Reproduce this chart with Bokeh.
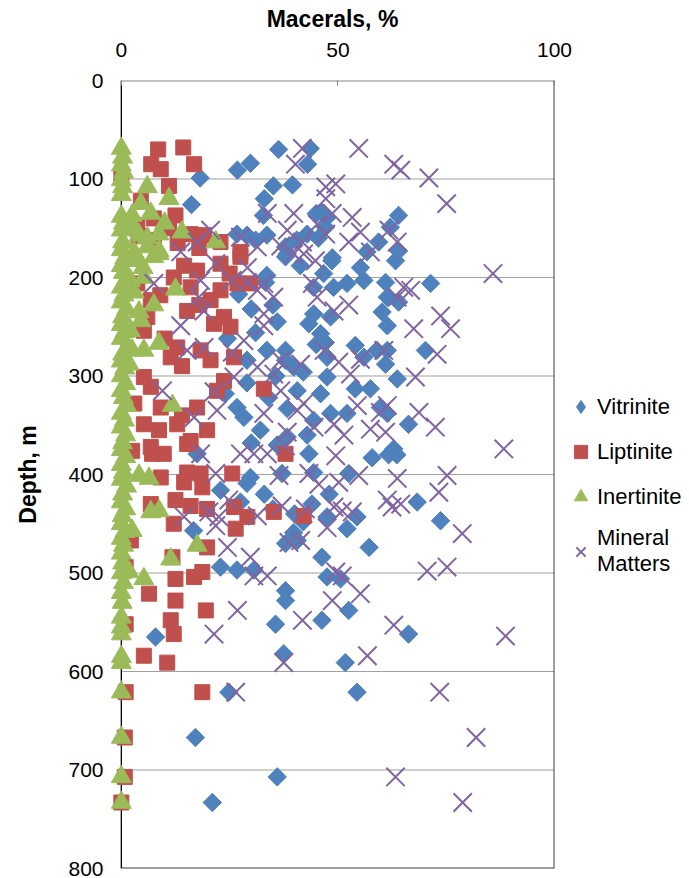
from bokeh.plotting import figure
from bokeh.models import Range1d, FixedTicker, Legend, LegendItem
from bokeh.embed import file_html
from bokeh.resources import INLINE

# ---------------- data ----------------
vit_pct = [43.6, 36.3, 43.0, 29.8, 26.8, 18.2, 35.1, 39.5, 33.0, 16.2, 45.0, 32.8, 46.3, 64.0, 62.1, 59.4,
           64.0, 56.7, 26.7, 29.0, 33.6, 37.9, 38.3, 42.9, 47.1, 45.5, 40.5, 31.0, 33.6, 33.3, 27.1, 44.4,
           44.4, 43.3, 37.9, 33.6, 39.8, 29.0, 40.6, 26.7, 28.3, 32.1, 44.4, 46.0, 38.3, 42.9, 41.3, 37.9,
           46.7, 48.3, 46.0, 38.3, 37.9, 48.6, 55.2, 63.3, 56.0, 52.1, 61.0, 71.4, 49.0, 61.4, 64.0, 60.2,
           61.4, 47.1, 54.0, 59.0, 61.4, 56.0, 61.0, 70.2, 47.5, 47.5, 63.7, 54.0, 57.5, 48.3, 52.1, 59.8,
           61.4, 66.3, 62.9, 57.9, 61.7, 63.6, 52.5, 68.3, 73.7, 54.4, 47.5, 52.1, 57.2, 46.3, 47.5, 50.6,
           52.5, 46.3, 66.3, 51.7, 54.4, 7.9, 37.5, 24.8, 17.1, 36.0, 21.0, 17.5, 29.0, 22.9, 27.5, 16.7,
           37.1, 37.9, 40.6, 39.8, 22.9, 26.7, 30.6, 37.9, 37.9, 35.6, 43.3, 44.4, 29.8, 33.0, 35.0, 44.0,
           40.0, 42.0, 48.0, 35.0, 30.0, 36.0, 24.5, 31.0, 45.0, 35.7, 42.0, 29.0, 34.0, 24.0, 36.0, 30.0,
           47.5, 48.7]
vit_depth = [69, 70, 85, 84, 91, 99, 107, 106, 120, 126, 135, 137, 134, 137, 149, 164,
             173, 174, 156, 157, 157, 169, 176, 156, 149, 160, 162, 162, 198, 205, 217, 210,
             237, 247, 274, 274, 291, 284, 315, 332, 342, 355, 345, 318, 362, 360, 188, 179,
             196, 240, 257, 333, 284, 183, 190, 183, 203, 206, 205, 206, 210, 220, 225, 235,
             249, 266, 269, 274, 274, 281, 288, 274, 281, 301, 303, 313, 313, 338, 338, 332,
             338, 349, 374, 383, 380, 380, 399, 428, 447, 443, 443, 455, 474, 484, 504, 506,
             538, 548, 562, 591, 621, 565, 582, 621, 667, 707, 733, 379, 409, 416, 428, 457,
             399, 470, 467, 459, 494, 497, 497, 518, 528, 552, 379, 398, 403, 420, 435, 430,
             440, 448, 420, 228, 232, 245, 262, 256, 268, 300, 296, 307, 322, 318, 370, 368,
             139, 180]

lip_pct = [8.5, 14.3, 16.8, 6.9, 9.1, 11.0, 0.0, 4.5, 12.5, 3.7, 16.0, 19.1, 22.9, 27.5, 7.5, 7.5,
           11.0, 13.0, 4.0, 18.0, 27.5, 22.9, 17.5, 14.5, 12.1, 16.0, 26.8, 29.8, 20.6, 22.9, 15.2, 23.7,
           25.2, 21.4, 6.0, 5.2, 6.8, 3.7, 12.9, 11.4, 18.3, 20.6, 26.0, 23.7, 22.1, 32.9, 5.2, 6.8,
           3.0, 9.1, 17.5, 5.2, 8.7, 12.9, 19.8, 16.0, 6.8, 14.0, 10.0, 18.0, 25.0, 9.0, 14.0, 2.5,
           7.1, 9.8, 15.2, 37.9, 15.2, 18.3, 25.6, 9.1, 18.7, 14.5, 12.5, 6.8, 16.0, 19.8, 26.0, 29.1,
           35.2, 42.1, 12.1, 26.4, 2.2, 19.8, 11.8, 1.0, 18.7, 16.8, 12.5, 6.4, 12.5, 19.5, 11.4, 1.0,
           12.1, 5.2, 10.6, 1.0, 18.7, 0.8, 0.8, 0.0]
lip_depth = [70, 68, 85, 85, 90, 107, 98, 122, 137, 147, 156, 157, 164, 174, 140, 162,
             150, 165, 158, 170, 179, 186, 193, 188, 200, 210, 206, 206, 223, 213, 234, 240,
             250, 247, 240, 254, 223, 206, 271, 281, 274, 284, 281, 305, 315, 313, 301, 311,
             328, 332, 332, 349, 355, 349, 355, 366, 372, 290, 262, 228, 196, 218, 340, 376,
             379, 379, 369, 379, 398, 399, 399, 403, 413, 408, 426, 430, 432, 435, 433, 443,
             438, 442, 450, 455, 467, 474, 484, 494, 499, 504, 506, 521, 528, 538, 548, 552,
             562, 584, 591, 621, 621, 667, 707, 733]

ine_pct = [0.0, 0.3, 0.0, 0.5, 0.0, 0.3, 0.0, 0.0, 0.5, 0.0, 0.3, 0.0, 0.8, 0.0, 0.5, 1.0,
           0.0, 0.6, 0.0, 1.2, 0.3, 0.0, 0.8, 0.0, 1.5, 0.3, 0.0, 0.8, 0.0, 1.0, 0.0, 0.5,
           1.2, 0.0, 0.7, 0.0, 1.0, 0.3, 0.0, 1.0, 0.0, 0.5, 0.0, 1.2, 0.3, 0.0, 1.0, 0.2,
           0.0, 0.8, 0.0, 0.5, 0.0, 0.3, 0.0, 0.5, 0.0, 0.2, 0.0, 0.0, 0.0, 0.0, 0.0, 0.0,
           0.0, 0.0, 0.0,
           6.0, 11.0, 4.5, 6.8, 2.5, 14.0, 8.7, 21.8, 4.1, 6.0, 8.7, 2.9, 7.5, 3.7, 8.7, 5.2,
           2.1, 12.5, 7.5, 4.1, 4.5, 2.1, 8.7, 5.2, 2.5, 1.8, 11.8, 4.1, 6.4, 6.8, 8.7, 2.5,
           17.5, 11.4, 5.2, 1.8, 3.0, 10.0, 5.0, 3.0, 6.0]
ine_depth = [69, 78, 86, 93, 101, 108, 116, 138, 145, 152, 164, 172, 180, 188, 195, 203,
             210, 218, 225, 232, 240, 248, 255, 262, 270, 278, 285, 292, 300, 308, 315, 322,
             330, 338, 345, 352, 360, 368, 375, 382, 390, 398, 405, 412, 420, 428, 435, 442,
             450, 458, 465, 472, 480, 490, 500, 510, 520, 530, 545, 555, 562, 585, 591, 621,
             667, 707, 733,
             108, 120, 125, 135, 137, 154, 156, 164, 157, 169, 173, 174, 179, 183, 176, 200,
             203, 212, 228, 235, 244, 254, 267, 274, 274, 288, 330, 401, 404, 438, 437, 457,
             472, 486, 506, 499, 150, 145, 190, 215, 160]

min_pct = [54.8, 62.9, 64.5, 71.0, 75.1, 49.5, 47.2, 47.2, 48.7, 53.3, 55.2, 52.5, 61.8, 63.7, 57.5, 47.2,
           41.8, 40.2, 33.7, 39.8, 38.3, 20.6, 17.5, 13.7, 27.5, 45.2, 31.4, 36.8, 41.8, 39.8,
           85.8, 65.2, 66.8, 63.7, 49.1, 52.5, 73.7, 76.0, 67.5, 72.9, 60.6, 46.8, 50.2, 55.2, 52.9, 67.9,
           54.5, 61.4, 59.8, 68.7, 72.5, 49.1, 51.4, 57.5, 61.0, 88.3,
           49.5, 54.8, 63.7, 75.2, 50.2, 73.3, 61.4, 64.5, 62.5, 49.1, 51.0, 53.3, 47.5, 78.7, 70.6, 75.2,
           49.5, 51.0, 55.2, 48.7, 62.9, 88.7,
           56.8, 73.5, 81.9, 63.3, 78.8, 21.4, 37.5, 26.4,
           18.3, 27.5, 30.6, 33.7, 37.9, 21.8, 43.3, 36.4, 45.6, 24.8, 37.1, 20.2, 14.5, 22.5, 31.4, 21.8,
           42.5, 24.5, 29.8, 30.6, 33.7, 38.7, 41.4, 26.8, 41.8,
           42.1, 44.8, 21.8, 29.1, 7.5, 18.3, 25.6, 29.1, 32.9, 35.2, 31.4, 17.9, 19.1, 32.9, 45.2, 44.1,
           32.9, 13.7, 28.3, 15.2, 19.1, 25.6, 31.4, 41.4, 36.8, 35.2, 9.5, 26.0, 21.4, 36.8, 32.9, 40.6,
           16.8, 22.1, 38.3, 44.5, 42.1]
min_depth = [69, 85, 91, 99, 125, 105, 108, 120, 135, 139, 154, 164, 152, 164, 174, 156,
             69, 85, 135, 135, 152, 152, 164, 174, 159, 146, 169, 168, 164, 176,
             196, 210, 213, 220, 234, 228, 239, 252, 252, 278, 274, 274, 286, 283, 298, 301,
             330, 330, 337, 337, 352, 349, 360, 354, 357, 374,
             381, 401, 404, 401, 408, 418, 426, 430, 433, 433, 437, 438, 454, 460, 498, 494,
             499, 503, 521, 528, 553, 564,
             584, 621, 667, 707, 733, 562, 591, 621,
             379, 379, 379, 379, 371, 399, 399, 401, 410, 426, 432, 438, 443, 443, 442, 452,
             435, 474, 484, 503, 503, 469, 467, 538, 548,
             176, 183, 186, 190, 206, 203, 203, 205, 206, 220, 213, 220, 234, 237, 220, 206,
             249, 249, 264, 274, 271, 276, 291, 288, 284, 298, 315, 301, 316, 315, 338, 335,
             342, 335, 357, 352, 328]

x_ticks = [0, 50, 100]
y_ticks = [0, 100, 200, 300, 400, 500, 600, 700, 800]
X_MIN, X_MAX, Y_MIN, Y_MAX = 0, 100, 0, 800

# ---------------- figure ----------------
FONT = "Liberation Sans"
p = figure(frame_width=444, frame_height=788,
           x_range=Range1d(-2.5, 100), y_range=Range1d(800, 0),
           x_axis_location="above",
           output_backend="svg", toolbar_location=None,
           min_border_left=110, min_border_top=80, min_border_right=135, min_border_bottom=10)

p.background_fill_color = "white"
p.border_fill_color = "white"
p.outline_line_color = None
p.xgrid.visible = False
p.ygrid.visible = False

xa = p.xaxis[0]
xa.ticker = FixedTicker(ticks=x_ticks)
xa.axis_label = "Macerals, %"
xa.axis_label_text_font = FONT
xa.axis_label_text_font_style = "bold"
xa.axis_label_text_font_size = "23px"
xa.axis_label_text_color = "black"
xa.axis_label_standoff = 8
xa.major_label_text_font = FONT
xa.major_label_text_font_size = "21px"
xa.major_label_text_color = "black"
xa.major_label_standoff = 24
xa.major_tick_in = 5
xa.major_tick_out = 0
xa.minor_tick_in = 0
xa.minor_tick_out = 0
xa.axis_line_color = None
xa.major_tick_line_color = "#868686"

ya = p.yaxis[0]
ya.ticker = FixedTicker(ticks=y_ticks)
ya.axis_label = "Depth, m"
ya.axis_label_text_font = FONT
ya.axis_label_text_font_style = "bold"
ya.axis_label_text_font_size = "23px"
ya.axis_label_text_color = "black"
ya.axis_label_standoff = 24
ya.major_label_text_font = FONT
ya.major_label_text_font_size = "21px"
ya.major_label_text_color = "black"
ya.major_label_standoff = 7
ya.major_tick_in = 0
ya.major_tick_out = 0
ya.minor_tick_in = 0
ya.minor_tick_out = 0
ya.axis_line_color = None

# horizontal gridlines and plot-area border, starting at the value axis (x = 0)
grid_levels = y_ticks[1:-1]
p.segment(x0=[X_MIN] * len(grid_levels), x1=[X_MAX] * len(grid_levels),
          y0=grid_levels, y1=grid_levels, line_color="#a0a0a0", line_width=1.2)
p.segment(x0=[X_MIN], x1=[X_MAX], y0=[Y_MIN], y1=[Y_MIN], line_color="#868686", line_width=2)
p.segment(x0=[X_MIN, X_MAX], x1=[X_MAX, X_MAX], y0=[Y_MAX, Y_MIN], y1=[Y_MAX, Y_MAX],
          line_color="#404040", line_width=2)
# value axis line at x = 0
p.segment(x0=[X_MIN], x1=[X_MIN], y0=[Y_MIN], y1=[Y_MAX], line_color="black", line_width=1.3)

BLUE, RED, GREEN, PURPLE = "#4F81BD", "#C0504D", "#9BBB59", "#8064A2"

r_vit = p.scatter(vit_pct, vit_depth, marker="square", angle=0.785398, size=13,
                  fill_color=BLUE, line_color=BLUE)
r_lip = p.scatter(lip_pct, lip_depth, marker="square", size=15,
                  fill_color=RED, line_color=RED)
r_ine = p.scatter(ine_pct, ine_depth, marker="triangle", size=20,
                  fill_color=GREEN, line_color=GREEN)
r_min = p.scatter(min_pct, min_depth, marker="x", size=26,
                  line_color=PURPLE, line_width=2)

# legend-only glyph for the diamond key (a NaN point, never drawn in the plot)
r_vit_key = p.scatter(x=[float("nan")], y=[float("nan")], marker="diamond",
                      fill_color=BLUE, line_color=BLUE)

legend = Legend(items=[
    LegendItem(label="Vitrinite", renderers=[r_vit_key]),
    LegendItem(label="Liptinite", renderers=[r_lip]),
    LegendItem(label="Inertinite", renderers=[r_ine]),
    LegendItem(label="Mineral\nMatters", renderers=[r_min]),
], location=(10, 291))
legend.label_text_font = FONT
legend.label_text_font_size = "22px"
legend.label_text_color = "black"
legend.label_text_line_height = 1.05
legend.glyph_width = 33
legend.glyph_height = 33
legend.label_standoff = -5
legend.spacing = 12
legend.padding = 2
legend.margin = 0
legend.border_line_color = None
legend.background_fill_alpha = 0
p.add_layout(legend, "right")

open("out.html", "w").write(file_html(p, INLINE))
